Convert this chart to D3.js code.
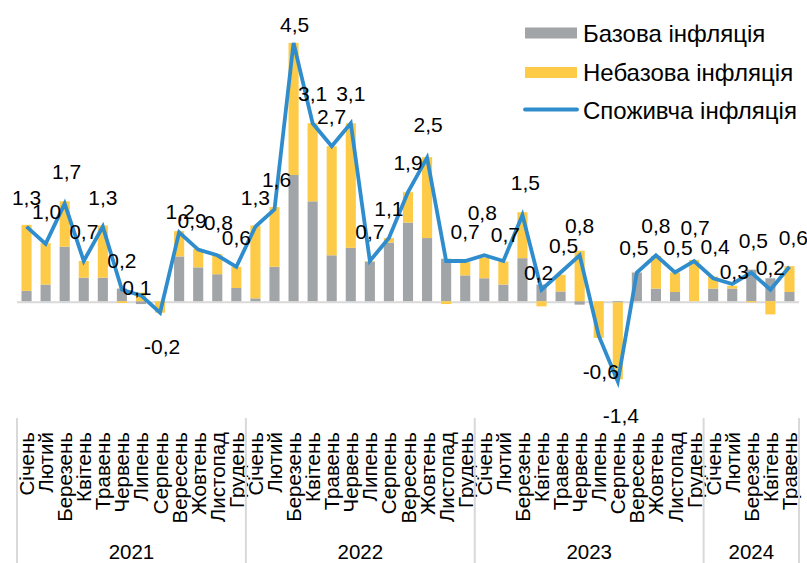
<!DOCTYPE html>
<html>
<head>
<meta charset="utf-8">
<script src="https://cdn.jsdelivr.net/npm/d3@7"></script>
<style>
  html, body { margin: 0; padding: 0; background: #fff; }
  svg { display: block; font-family: "Liberation Sans", Arial, sans-serif; }
</style>
</head>
<body>
<svg id="chart" width="807" height="563"></svg>
<script>
// ---------- DATA ----------
const monthNames = ["Січень","Лютий","Березень","Квітень","Травень","Червень","Липень","Серпень","Вересень","Жовтень","Листопад","Грудень"];
const years = ["2021","2022","2023","2024"];
const monthsPerYear = [12, 12, 12, 5];

// Базова інфляція (core contribution)
const core = [0.18,0.29,0.95,0.41,0.41,0.22,-0.05,0.00,0.78,0.59,0.47,0.23,
              0.05,0.60,2.20,1.74,0.80,0.93,0.69,1.02,1.37,1.10,0.74,0.45,
              0.40,0.29,0.75,0.29,0.17,-0.06,0.00,-0.02,0.50,0.22,0.16,0.00,
              0.22,0.22,0.55,0.40,0.16];
// Небазова інфляція (non-core contribution)
const nonCore = [1.15,0.72,0.79,0.29,0.91,-0.03,0.15,-0.20,0.44,0.32,0.35,0.37,
                 1.27,1.04,2.30,1.36,1.90,2.17,0.01,0.08,0.53,1.41,-0.05,0.23,
                 0.36,0.40,0.80,-0.09,0.29,0.88,-0.64,-1.34,0.00,0.57,0.34,0.72,
                 0.21,0.05,-0.02,-0.23,0.45];
// Споживча інфляція (CPI, m/m)
const cpi = [1.3,1.0,1.7,0.7,1.3,0.2,0.1,-0.2,1.2,0.9,0.8,0.6,
             1.3,1.6,4.5,3.1,2.7,3.1,0.7,1.1,1.9,2.5,0.7,0.7,
             0.8,0.7,1.5,0.2,0.5,0.8,-0.6,-1.4,0.5,0.8,0.5,0.7,
             0.4,0.3,0.5,0.2,0.6];

const seriesNames = ["Базова інфляція","Небазова інфляція","Споживча інфляція"];

// ---------- LAYOUT / STYLE ----------
const colors = { core: "#a2a5a7", nonCore: "#fdcb47", line: "#2f8dcd", axis: "#d9d9d9" };
const plot = { left: 17, right: 799, top: 14.2, bottom: 416 };
const yDomain = [-2, 5];
// label nudges (index -> [dx, dy]) relative to default placement
const labelNudge = {
  6: [-4, 22], 8: [1, 9], 9: [-6, 0], 10: [1, -3], 13: [2, 0], 14: [1, 11],
  21: [1, -4], 24: [-2, -13], 25: [2, 3], 26: [3, -3], 27: [-3, 12], 28: [3, 2],
  32: [-3, 4], 34: [3, 4], 35: [1, -4], 36: [2, -2], 37: [2, 17], 38: [2, -3],
  39: [0, 7], 40: [4, 0], 1: [1, -3], 2: [2, -3], 7: [2, 0], 30: [2, 2], 31: [3, 0]
};
const hiddenLabels = new Set([22]);
const labelFont = 21, monthFont = 20.5, yearFont = 20.5;

// ---------- BUILD ----------
const categories = [];
years.forEach((y, yi) => {
  for (let m = 0; m < monthsPerYear[yi]; m++) categories.push({ key: y + "-" + m, month: monthNames[m], year: y });
});
const rows = categories.map((c, i) => ({ key: c.key, core: core[i], nonCore: nonCore[i], cpi: cpi[i] }));

const svg = d3.select("#chart");
const x = d3.scaleBand().domain(categories.map(c => c.key)).range([plot.left, plot.right]).paddingInner(0.47).paddingOuter(0.235);
const xPos = d3.scaleBand().domain(categories.map(c => c.key)).range([plot.left, plot.right]);
const y = d3.scaleLinear().domain(yDomain).range([plot.bottom, plot.top]);

// zero axis line
svg.append("line")
  .attr("x1", plot.left).attr("x2", plot.right)
  .attr("y1", y(0) + 1).attr("y2", y(0) + 1)
  .attr("stroke", colors.axis).attr("stroke-width", 2);

// stacked bars
const stack = d3.stack().keys(["core", "nonCore"]).offset(d3.stackOffsetDiverging);
const stacked = stack(rows);
const colorOf = { core: colors.core, nonCore: colors.nonCore };
svg.append("g").selectAll("g").data(stacked).join("g")
  .attr("fill", d => colorOf[d.key])
  .selectAll("rect").data(d => d).join("rect")
  .attr("x", d => x(d.data.key))
  .attr("width", x.bandwidth())
  .attr("y", d => y(Math.max(d[0], d[1])))
  .attr("height", d => Math.abs(y(d[0]) - y(d[1])));

// CPI line
const cx = k => xPos(k) + xPos.bandwidth() / 2;
svg.append("path")
  .datum(rows)
  .attr("fill", "none")
  .attr("stroke", colors.line)
  .attr("stroke-width", 3.8)
  .attr("stroke-linejoin", "miter")
  .attr("d", d3.line().x(d => cx(d.key)).y(d => y(d.cpi)));

// data labels
const fmt = v => d3.format(".1f")(v).replace(".", ",").replace("−", "-");
svg.append("g").selectAll("text").data(rows).join("text")
  .filter((d, i) => !hiddenLabels.has(i))
  .attr("x", d => cx(d.key) + (labelNudge[rows.indexOf(d)] || [0, 0])[0])
  .attr("y", d => y(d.cpi) + (d.cpi < 0 ? 41 : -22) + (labelNudge[rows.indexOf(d)] || [0, 0])[1])
  .attr("text-anchor", "middle")
  .attr("font-size", labelFont)
  .attr("fill", "#000")
  .text(d => fmt(d.cpi));

// category axis: month labels
const axisTop = 418, monthTextTop = 432;
svg.append("g").selectAll("text").data(categories).join("text")
  .attr("transform", d => `translate(${cx(d.key) + 7.5},${monthTextTop}) rotate(-90)`)
  .attr("text-anchor", "end")
  .attr("font-size", monthFont)
  .attr("fill", "#000")
  .text(d => d.month);

// year groups and separators
let start = 0;
const bounds = [];
years.forEach((yr, yi) => {
  const first = categories[start].key;
  const last = categories[start + monthsPerYear[yi] - 1].key;
  const x0 = xPos(first), x1 = xPos(last) + xPos.bandwidth();
  bounds.push([x0, x1, yr]);
  start += monthsPerYear[yi];
});
const sepXs = [bounds[0][0]].concat(bounds.map(b => b[1]));
svg.append("g").selectAll("line").data(sepXs).join("line")
  .attr("x1", d => d).attr("x2", d => d)
  .attr("y1", axisTop).attr("y2", 563)
  .attr("stroke", colors.axis).attr("stroke-width", 2);
svg.append("g").selectAll("text").data(bounds).join("text")
  .attr("x", d => (d[0] + d[1]) / 2)
  .attr("y", 559)
  .attr("text-anchor", "middle")
  .attr("font-size", yearFont)
  .attr("fill", "#000")
  .text(d => d[2]);

// legend
const legend = svg.append("g");
const lgX = 525, lgW = 52, lgTextX = 583, lgFont = 24;
const lgRows = [
  { name: seriesNames[0], type: "rect", color: colors.core, cy: 33, base: 42 },
  { name: seriesNames[1], type: "rect", color: colors.nonCore, cy: 72.5, base: 80.5 },
  { name: seriesNames[2], type: "line", color: colors.line, cy: 109.5, base: 118.5 }
];
lgRows.forEach(r => {
  if (r.type === "rect") {
    legend.append("rect").attr("x", lgX).attr("y", r.cy - 5.5).attr("width", lgW).attr("height", 11).attr("fill", r.color);
  } else {
    legend.append("line").attr("x1", lgX).attr("x2", lgX + lgW).attr("y1", r.cy).attr("y2", r.cy)
      .attr("stroke", r.color).attr("stroke-width", 3.8).attr("stroke-linecap", "round");
  }
  legend.append("text").attr("x", lgTextX).attr("y", r.base).attr("font-size", lgFont).attr("fill", "#000").text(r.name);
});
</script>
</body>
</html>
